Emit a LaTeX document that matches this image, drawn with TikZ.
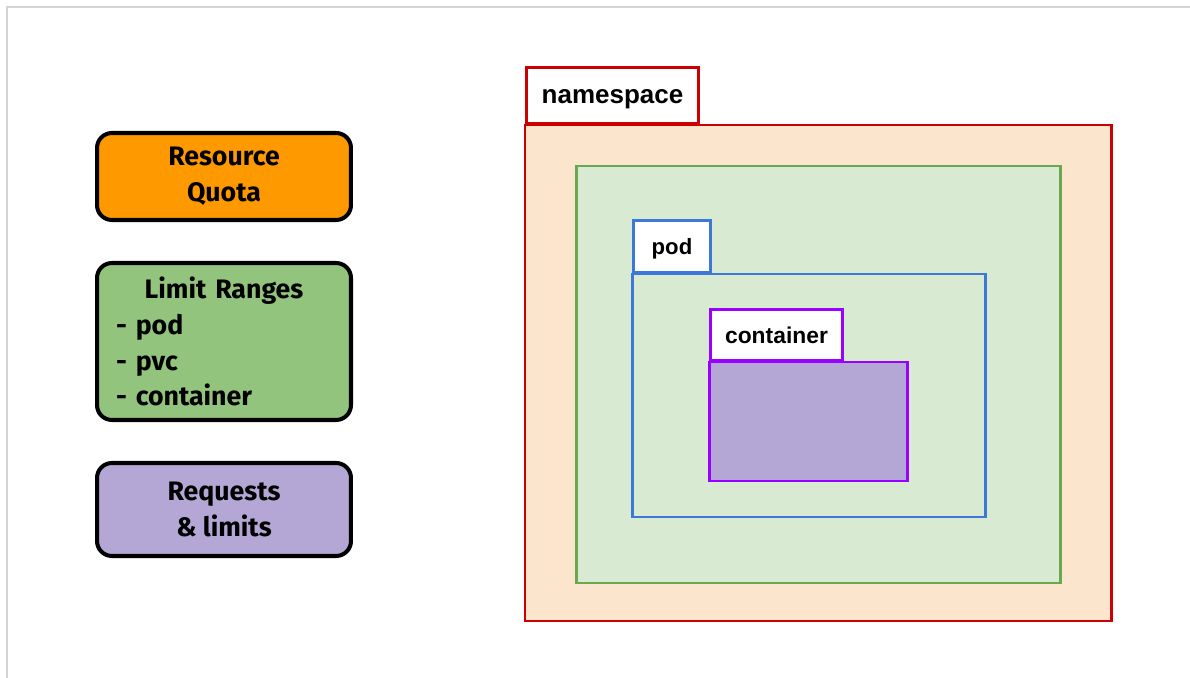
\documentclass[tikz,border=0pt]{standalone}
\usepackage{fontspec}
\setmainfont{Liberation Sans}
\newfontfamily\roundfont{Fira Sans}
\definecolor{quotaorange}{HTML}{FF9900}
\definecolor{limitgreen}{HTML}{93C47D}
\definecolor{reqpurple}{HTML}{B4A7D6}
\definecolor{nsred}{HTML}{CC0000}
\definecolor{nspeach}{HTML}{FCE5CD}
\definecolor{grpgreen}{HTML}{6AA84F}
\definecolor{grpfill}{HTML}{D9EAD3}
\definecolor{podblue}{HTML}{3C78D8}
\definecolor{ctrviolet}{HTML}{9900FF}
\definecolor{framegray}{HTML}{D4D4D4}

\begin{document}
\begin{tikzpicture}[x=0.02cm, y=-0.02cm,
	policy/.style={draw=black, line width=2.3pt, rounded corners=8.5pt, minimum width=5.08cm,
		font=\roundfont\bfseries\fontsize{15.2}{20.4}\selectfont, align=center},
	tab/.style={draw, fill=white, line width=1.7pt, anchor=south west, inner sep=0pt,
		text height=1.8ex, text depth=0pt, font=\bfseries},
	box/.style={line width=1.7pt}]
	\useasboundingbox (0,0) rectangle (1190,678);
	\draw [framegray, line width=1.1pt] (1190,7) -- (7,7) -- (7,678);

	\node [policy, fill=quotaorange, minimum height=1.74cm] (quota) at (224,176.5) {Resource\\Quota};
	\node [policy, fill=limitgreen, minimum height=3.14cm, align=left, inner xsep=0.38cm,
		text width=4.32cm] (limits) at (224,341.5)
		{\makebox[\linewidth]{Limit Ranges}\\- pod\\- pvc\\- container};
	\node [policy, fill=reqpurple, minimum height=1.86cm] (requests) at (224,509.5) {Requests\\\& limits};

	\draw [box, draw=nsred, fill=nspeach] (525,125) rectangle (1111,621);
	\node [tab, draw=nsred, minimum width=3.44cm, minimum height=1.12cm,
		font=\bfseries\fontsize{14.8}{17}\selectfont] (nstab) at (525,125) {namespace};
	\draw [box, draw=grpgreen, fill=grpfill] (576,166) rectangle (1060,583);
	\draw [box, draw=podblue] (632,274) rectangle (985,517);
	\node [tab, draw=podblue, minimum width=1.54cm, minimum height=1.04cm,
		font=\bfseries\fontsize{12.6}{15}\selectfont] (podtab) at (632,274) {pod};
	\draw [box, draw=ctrviolet, fill=reqpurple] (709,362) rectangle (907,481);
	\node [tab, draw=ctrviolet, minimum width=2.64cm, minimum height=1.02cm,
		font=\bfseries\fontsize{13}{15}\selectfont] (ctrtab) at (709,362) {container};
\end{tikzpicture}
\end{document}
